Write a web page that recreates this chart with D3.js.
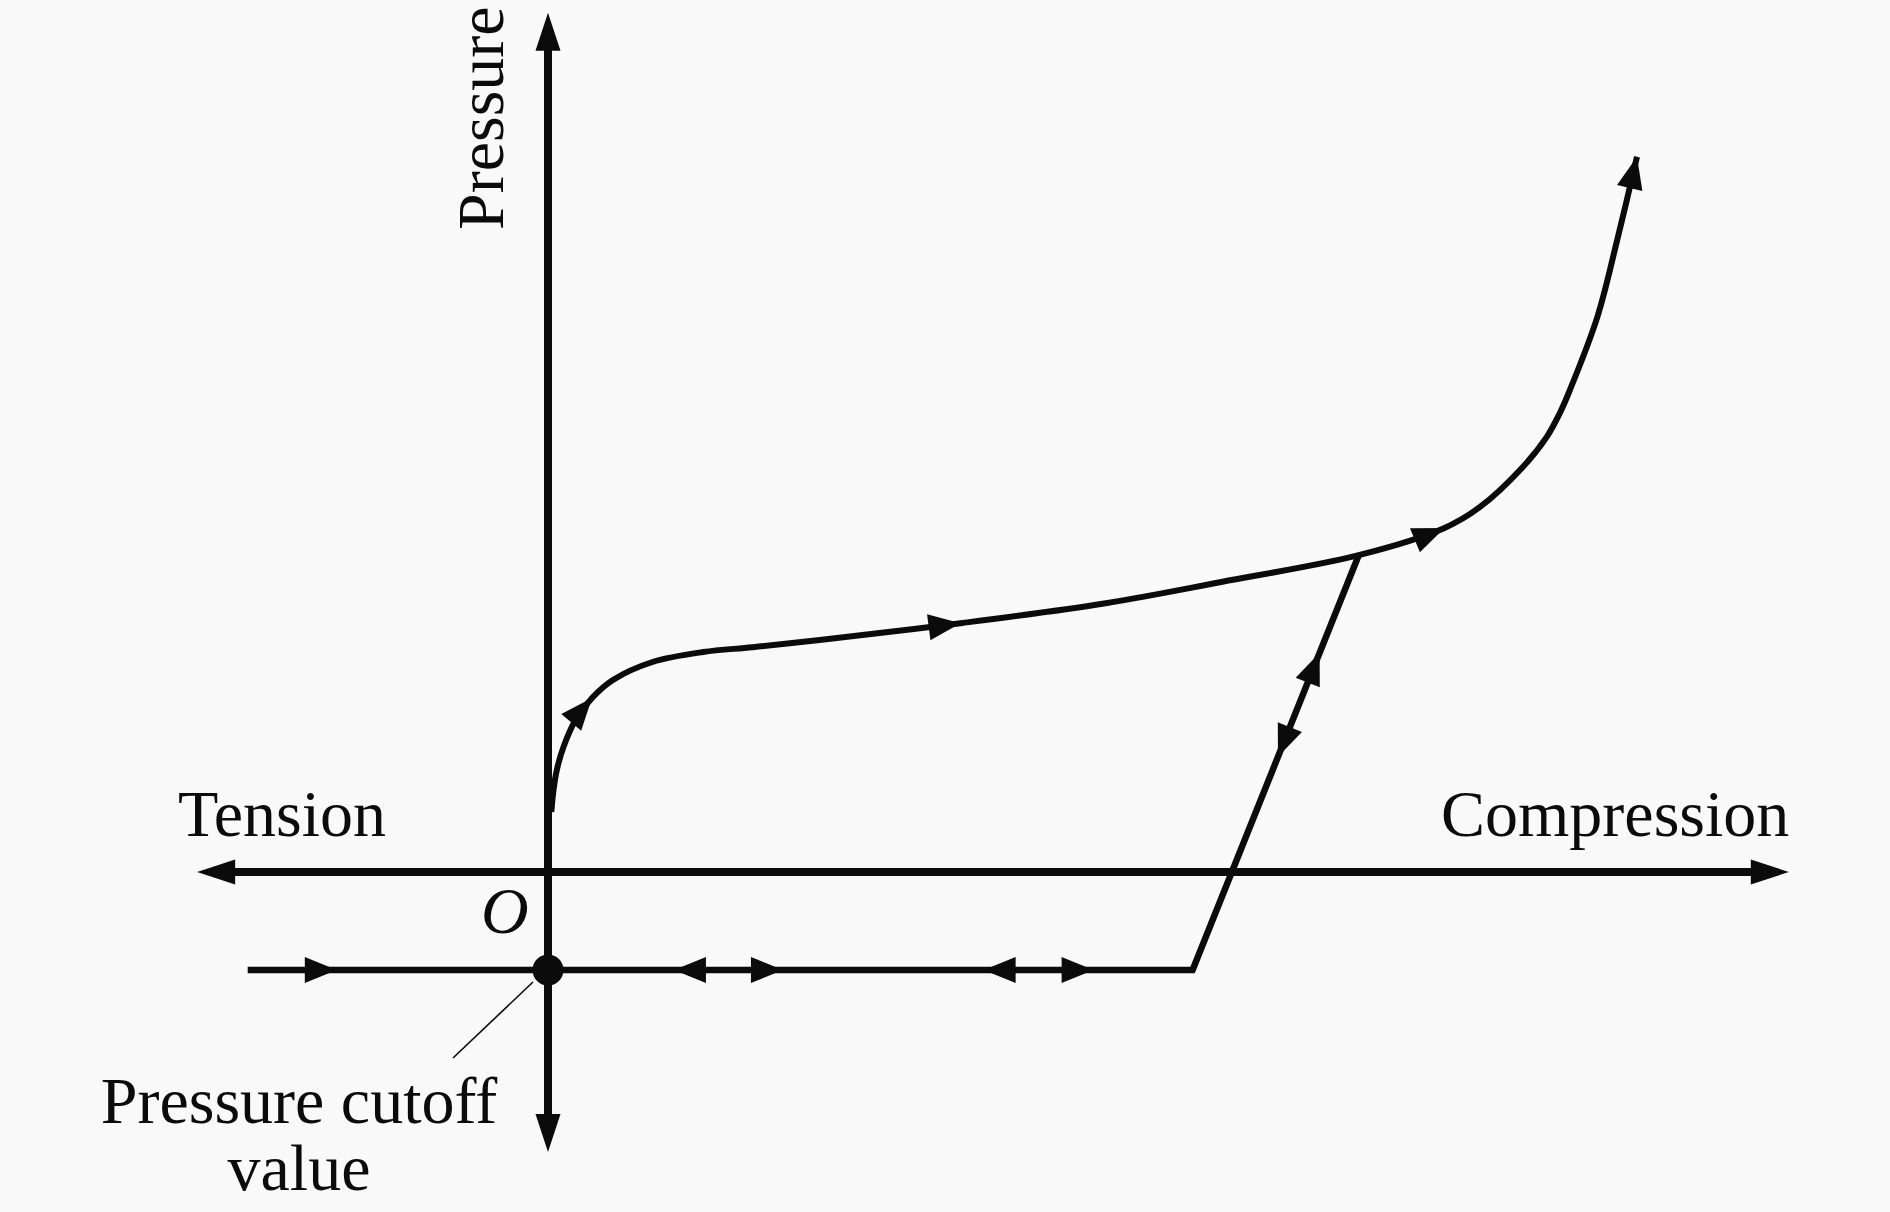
<!DOCTYPE html>
<html>
<head>
<meta charset="utf-8">
<script src="https://cdn.jsdelivr.net/npm/d3@7"></script>
<style>
  html, body { margin: 0; padding: 0; background: #f9f9f9; }
  svg { display: block; }
</style>
</head>
<body>
<svg id="chart" width="1890" height="1212"></svg>
<script>
// ---------- data (diagram units: origin O = (0,0)) ----------
const loadingX = [0.003, 0.005, 0.008, 0.014, 0.025, 0.040, 0.059, 0.095, 0.141, 0.186, 0.247, 0.375, 0.507, 0.612, 0.737, 0.815, 0.847, 0.886, 0.908, 0.920, 0.929, 0.954, 0.972, 0.990];
const loadingY = [0.075, 0.1025, 0.1275, 0.156, 0.190, 0.2175, 0.240, 0.2625, 0.275, 0.281, 0.290, 0.311, 0.336, 0.3625, 0.396, 0.430, 0.456, 0.506, 0.544, 0.574, 0.6025, 0.694, 0.790, 0.894];

const cutoffX = [-0.273, 0.586, 0.737];
const cutoffY = [-0.1225, -0.1225, 0.396];

const axisXExtent = [-0.319, 1.128];
const axisYExtent = [-0.350, 1.074];

// arrow marks along the loading curve (tip x positions)
const curveArrowTipX = [0.040, 0.375, 0.815];
// arrow marks along the cutoff line: tip x and direction (+1 right, -1 left)
const flatArrowTipX = [-0.192, 0.1145, 0.2136, 0.396, 0.496];
const flatArrowDir = [1, -1, 1, -1, 1];
// arrow marks along the unloading/reloading line: tip y and direction (+1 up, -1 down)
const riseArrowTipY = [0.274, 0.144];
const riseArrowDir = [1, -1];

const labelTension = "Tension";
const labelCompression = "Compression";
const labelPressure = "Pressure";
const labelOrigin = "O";
const labelCutoff = ["Pressure cutoff", "value"];

// ---------- scales ----------
const x = d3.scaleLinear().domain([0, 1]).range([548, 1648]);
const y = d3.scaleLinear().domain([0, 1]).range([872, 72]);

const svg = d3.select("#chart");
const ink = "#0b0b0b";
const font = "'Liberation Serif', 'Times New Roman', serif";

function head(tx, ty, ang, len, hw) {
  const bx = tx - len * Math.cos(ang), by = ty - len * Math.sin(ang);
  const nx = -Math.sin(ang), ny = Math.cos(ang);
  return `M${tx},${ty}L${bx + nx * hw},${by + ny * hw}L${bx - nx * hw},${by - ny * hw}Z`;
}

// ---------- axes ----------
const ax0 = x(axisXExtent[0]), ax1 = x(axisXExtent[1]), ay = y(0);
const ay0 = y(axisYExtent[0]), ay1 = y(axisYExtent[1]), axx = x(0);
const axL = 38, axW = 12.5;
svg.append("line").attr("x1", ax0 + axL - 4).attr("x2", ax1 - axL + 4).attr("y1", ay).attr("y2", ay)
  .attr("stroke", ink).attr("stroke-width", 8);
svg.append("line").attr("x1", axx).attr("x2", axx).attr("y1", ay0 - axL + 4).attr("y2", ay1 + axL - 4)
  .attr("stroke", ink).attr("stroke-width", 8);
svg.append("path").attr("d", head(ax0, ay, Math.PI, axL, axW)).attr("fill", ink);
svg.append("path").attr("d", head(ax1, ay, 0, axL, axW)).attr("fill", ink);
svg.append("path").attr("d", head(axx, ay1, -Math.PI / 2, axL, axW)).attr("fill", ink);
svg.append("path").attr("d", head(axx, ay0, Math.PI / 2, axL, axW)).attr("fill", ink);

// ---------- cutoff / unloading path ----------
const cutoffPts = cutoffX.map((d, i) => [x(d), y(cutoffY[i])]);
svg.append("path").attr("d", d3.line()(cutoffPts))
  .attr("fill", "none").attr("stroke", ink).attr("stroke-width", 6.5).attr("stroke-linejoin", "miter");

const aL = 32, aW = 13;
flatArrowTipX.forEach((d, i) => {
  const ang = flatArrowDir[i] > 0 ? 0 : Math.PI;
  svg.append("path").attr("d", head(x(d), y(cutoffY[0]), ang, aL, aW)).attr("fill", ink);
});
// rising segment direction
const rp0 = cutoffPts[1], rp1 = cutoffPts[2];
const riseAng = Math.atan2(rp1[1] - rp0[1], rp1[0] - rp0[0]);
riseArrowTipY.forEach((d, i) => {
  const py = y(d);
  const t = (py - rp0[1]) / (rp1[1] - rp0[1]);
  const px = rp0[0] + t * (rp1[0] - rp0[0]);
  const ang = riseArrowDir[i] > 0 ? riseAng : riseAng + Math.PI;
  svg.append("path").attr("d", head(px, py, ang, aL, aW)).attr("fill", ink);
});

// ---------- loading curve ----------
const loadPts = loadingX.map((d, i) => [x(d), y(loadingY[i])]);
const curvePath = svg.append("path")
  .attr("d", d3.line().curve(d3.curveCatmullRom.alpha(0.5))(loadPts))
  .attr("fill", "none").attr("stroke", ink).attr("stroke-width", 6).attr("stroke-linecap", "butt");
const node = curvePath.node();
const total = node.getTotalLength();
function lengthAtX(px) {
  let lo = 0, hi = total;
  for (let k = 0; k < 40; k++) {
    const mid = (lo + hi) / 2;
    if (node.getPointAtLength(mid).x < px) lo = mid; else hi = mid;
  }
  return (lo + hi) / 2;
}
function curveArrow(L) {
  const p = node.getPointAtLength(L);
  const q = node.getPointAtLength(Math.max(0, L - 12));
  const ang = Math.atan2(p.y - q.y, p.x - q.x);
  svg.append("path").attr("d", head(p.x, p.y, ang, aL, aW)).attr("fill", ink);
}
curveArrowTipX.forEach(d => curveArrow(lengthAtX(x(d))));
curveArrow(total);

// ---------- cutoff point + leader ----------
svg.append("circle").attr("cx", x(0)).attr("cy", y(cutoffY[0])).attr("r", 15.5).attr("fill", ink);
svg.append("line").attr("x1", x(0) - 15).attr("y1", y(cutoffY[0]) + 12)
  .attr("x2", 453).attr("y2", 1058).attr("stroke", ink).attr("stroke-width", 1.6);

// ---------- labels ----------
const fs = 66;
svg.append("text").attr("x", 178).attr("y", 836).attr("font-family", font).attr("font-size", fs)
  .attr("fill", ink).text(labelTension);
svg.append("text").attr("x", 1441).attr("y", 836).attr("font-family", font).attr("font-size", fs)
  .attr("fill", ink).text(labelCompression);
svg.append("text").attr("transform", "translate(503,230) rotate(-90)").attr("font-family", font)
  .attr("font-size", fs).attr("fill", ink).text(labelPressure);
svg.append("text").attr("x", 481).attr("y", 933).attr("font-family", font).attr("font-size", fs)
  .attr("font-style", "italic").attr("fill", ink).text(labelOrigin);
svg.append("text").attr("text-anchor", "middle").attr("font-family", font).attr("font-size", fs)
  .attr("fill", ink)
  .selectAll("tspan").data(labelCutoff).join("tspan")
  .attr("x", 299).attr("y", (d, i) => 1123 + i * 67).text(d => d);
</script>
</body>
</html>
